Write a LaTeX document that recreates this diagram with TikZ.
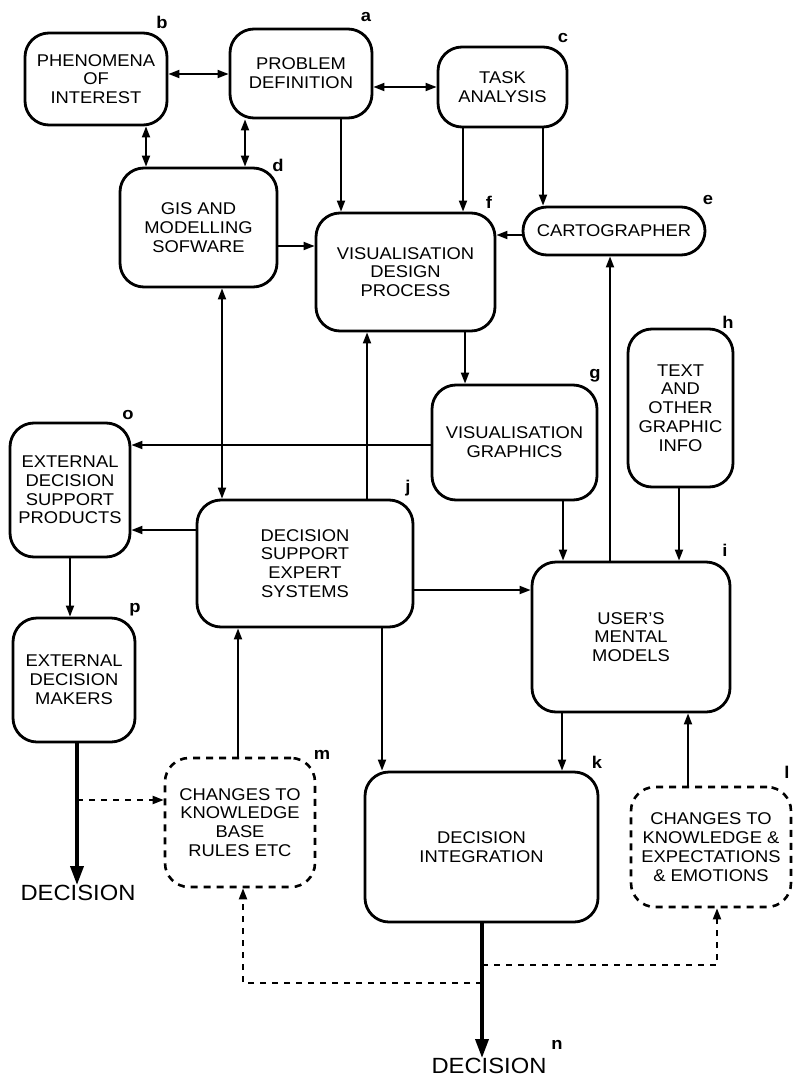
\documentclass[tikz,border=0pt]{standalone}
\usepackage{fontspec}
\setmainfont{Liberation Sans}[FakeStretch=1.08]
\usetikzlibrary{arrows.meta}
\begin{document}
\begin{tikzpicture}[x=1pt,y=-1pt,
  >={Triangle[length=11pt,width=8pt]},
  box/.style={draw,line width=2.8pt,rounded corners=24pt,align=center,
    font=\fontsize{17}{18.8}\selectfont,inner sep=2pt},
  dbox/.style={box,line width=2.6pt,dash pattern=on 7pt off 6pt},
  arr/.style={line width=1.9pt,->},
  biarr/.style={line width=1.9pt,<->},
  bigarr/.style={line width=3.6pt,-{Triangle[length=19pt,width=13pt]}},
  darr/.style={line width=2pt,dash pattern=on 6pt off 6pt,->},
  tag/.style={font=\bfseries\fontsize{17}{17}\selectfont,inner sep=0pt},
  outcome/.style={font=\fontsize{22}{22}\selectfont,inner sep=0pt}]
\useasboundingbox (0,0) rectangle (793,1078);

% boxes
\node[box,minimum width=142pt,minimum height=92pt] (b) at (96,79) {PHENOMENA\\OF\\INTEREST};
\node[box,minimum width=142pt,minimum height=89pt] (a) at (301,73.5) {PROBLEM\\DEFINITION};
\node[box,minimum width=129pt,minimum height=80pt] (c) at (502.5,87) {TASK\\ANALYSIS};
\node[box,minimum width=157pt,minimum height=119pt] (d) at (198.5,227.5) {GIS AND\\MODELLING\\SOFWARE};
\node[box,minimum width=179pt,minimum height=118pt] (f) at (405.5,272) {VISUALISATION\\DESIGN\\PROCESS};
\node[box,rounded corners=24pt,minimum width=182pt,minimum height=48pt] (e) at (614,231) {CARTOGRAPHER};
\node[box,minimum width=165pt,minimum height=115pt] (g) at (514.5,442.5) {VISUALISATION\\GRAPHICS};
\node[box,minimum width=105pt,minimum height=158pt] (h) at (680.5,408) {TEXT\\AND\\OTHER\\GRAPHIC\\INFO};
\node[box,minimum width=120pt,minimum height=134pt] (o) at (70,490) {EXTERNAL\\DECISION\\SUPPORT\\PRODUCTS};
\node[box,minimum width=216pt,minimum height=127pt] (j) at (305,563.5) {DECISION\\SUPPORT\\EXPERT\\SYSTEMS};
\node[box,minimum width=198pt,minimum height=150pt] (i) at (631,637) {USER'S\\MENTAL\\MODELS};
\node[box,minimum width=122pt,minimum height=124pt] (p) at (74,680) {EXTERNAL\\DECISION\\MAKERS};
\node[dbox,minimum width=150pt,minimum height=129pt] (m) at (240,822.5) {CHANGES TO\\KNOWLEDGE\\BASE\\RULES ETC};
\node[box,minimum width=233pt,minimum height=150pt] (k) at (481.5,847) {DECISION\\INTEGRATION};
\node[dbox,minimum width=160pt,minimum height=120pt] (l) at (711,847) {CHANGES TO\\KNOWLEDGE \&\\EXPECTATIONS\\\& EMOTIONS};

% outcomes
\node[outcome] (dec1) at (78,893) {DECISION};
\node[outcome] (dec2) at (489,1066) {DECISION};

% letter tags
\node[tag] (tb) at (162,22) {b};
\node[tag] (ta) at (366,17) {a};
\node[tag] (tc) at (563,38) {c};
\node[tag] (td) at (278,165) {d};
\node[tag] (tf) at (489,202) {f};
\node[tag] (te) at (708,200) {e};
\node[tag] (tg) at (595,376) {g};
\node[tag] (th) at (728,322) {h};
\node[tag] (to) at (128,415) {o};
\node[tag] (tj) at (408,488) {j};
\node[tag] (ti) at (725,550) {i};
\node[tag] (tp) at (135,610) {p};
\node[tag] (tm) at (322,755) {m};
\node[tag] (tk) at (597,762) {k};
\node[tag] (tl) at (787,772) {l};
\node[tag] (tn) at (557,1045) {n};

% connectors in the upper part
\draw[biarr] (b.east |- 0,74) -- (a.west |- 0,74);
\draw[biarr] (a.east |- 0,87) -- (c.west |- 0,87);
\draw[biarr] (b.south -| 146,0) -- (d.north -| 146,0);
\draw[biarr] (a.south -| 245,0) -- (d.north -| 245,0);
\draw[arr] (a.south -| 341,0) -- (f.north -| 341,0);
\draw[arr] (d.east |- 0,246) -- (f.west |- 0,246);
\draw[arr] (c.south -| 463,0) -- (f.north -| 463,0);
\draw[arr] (c.south -| 543,0) -- (e.north -| 543,0);
\draw[arr] (e.west |- 0,235) -- (f.east |- 0,235);
\draw[arr] (i.north -| 610,0) -- (e.south -| 610,0);
\draw[arr] (f.south -| 465,0) -- (g.north -| 465,0);

% middle part
\draw[arr] (g.west |- 0,445) -- (o.east |- 0,445);
\draw[arr] (j.west |- 0,530) -- (o.east |- 0,530);
\draw[biarr] (d.south -| 222,0) -- (j.north -| 222,0);
\draw[arr] (j.north -| 367,0) -- (f.south -| 367,0);
\draw[arr] (j.east |- 0,590) -- (i.west |- 0,590);
\draw[arr] (g.south -| 563,0) -- (i.north -| 563,0);
\draw[arr] (h.south -| 679,0) -- (i.north -| 679,0);
\draw[arr] (o.south -| 70,0) -- (p.north -| 70,0);

% lower part
\draw[bigarr] (p.south -| 77,0) -- (dec1.north -| 77,0);
\coordinate (pm) at (77,800);
\draw[darr] (pm) -- (m.west |- pm);
\draw[arr] (m.north -| 238,0) -- (j.south -| 238,0);
\draw[arr] (j.south -| 382,0) -- (k.north -| 382,0);
\draw[arr] (i.south -| 562,0) -- (k.north -| 562,0);
\draw[arr] (l.north -| 688,0) -- (i.south -| 688,0);
\draw[bigarr] (k.south -| 482,0) -- (dec2.north -| 482,0);
\coordinate (kl) at (482,965);
\coordinate (km) at (482,983);
\draw[darr] (kl) -- (717,965) -- (l.south -| 717,0);
\draw[darr] (km) -- (243,983) -- (m.south -| 243,0);
\end{tikzpicture}
\end{document}
